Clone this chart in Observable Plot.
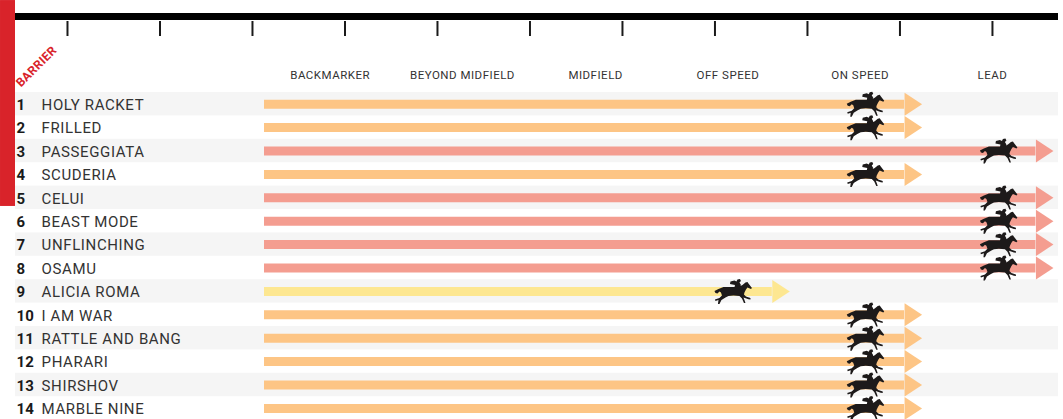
<!DOCTYPE html>
<html>
<head>
<meta charset="utf-8">
<script src="https://cdn.jsdelivr.net/npm/d3@7"></script>
<script src="https://cdn.jsdelivr.net/npm/@observablehq/plot@0.6"></script>
<style>html,body{margin:0;padding:0;background:#fff;overflow:hidden}#c{width:1063px;height:419px;overflow:hidden}
.cols text{letter-spacing:.5px}.names text{letter-spacing:.62px}.barrier text{letter-spacing:.4px}</style>
</head>
<body>
<div id="c"></div>
<script>
const barriers = [1,2,3,4,5,6,7,8,9,10,11,12,13,14];
const names = ["HOLY RACKET","FRILLED","PASSEGGIATA","SCUDERIA","CELUI","BEAST MODE","UNFLINCHING","OSAMU","ALICIA ROMA","I AM WAR","RATTLE AND BANG","PHARARI","SHIRSHOV","MARBLE NINE"];
const styles = ["ON SPEED","ON SPEED","LEAD","ON SPEED","LEAD","LEAD","LEAD","LEAD","OFF SPEED","ON SPEED","ON SPEED","ON SPEED","ON SPEED","ON SPEED"];
const columns = ["BACKMARKER","BEYOND MIDFIELD","MIDFIELD","OFF SPEED","ON SPEED","LEAD"];
const columnAt = [2.84,4.27,5.71,7.14,8.57,10];
const ticks = [0,1,2,3,4,5,6,7,8,9,10];
const styleNames = ["OFF SPEED","ON SPEED","LEAD"];
const styleColors = ["#fde791","#fdc585","#f49d90"];
const shaftEnds = {"OFF SPEED":7.62,"ON SPEED":9.05,"LEAD":10.47};
const horseAt = {"OFF SPEED":7.2,"ON SPEED":8.63,"LEAD":10.07};
const shaftStart = 2.13;
const rowsLeft = -0.562, rowsRight = 10.714;

const rows = barriers.map((b,i)=>({barrier:b,name:names[i],style:styles[i],end:shaftEnds[styles[i]],horse:horseAt[styles[i]]}));
const shaded = rows.filter(d=>d.barrier%2===1);

const unit = size => Math.sqrt(size/Math.PI)/10;
const head = {draw(c,size){const u=unit(size); c.moveTo(0,-11.5*u);c.lineTo(17.5*u,0);c.lineTo(0,11.5*u);c.closePath();}};
const horse = {draw(c,size){
  const u=unit(size), m=(x,y)=>c.moveTo(x*u,y*u), l=(x,y)=>c.lineTo(x*u,y*u);
  // body, tail, head and legs
  m(-19,-1); l(-15,-3); l(-10,-5); l(-5,-5); l(1,-5); l(6,-5.5); l(9,-7); l(12,-9.5); l(14,-10); l(15,-8.5);
  l(18.5,-4); l(17.5,-3); l(14,-4.5); l(12.5,-2.5); l(11,0.5); l(10.5,2.5); l(12.5,4.5); l(17,6); l(17,7.5); l(15,7.2); l(10,5.5);
  l(11,8); l(12,11); l(10.5,11); l(8.5,6.5); l(6,4); l(0,3.5); l(-5,4); l(-8,5.5); l(-12,8); l(-14,12); l(-15.5,12); l(-15,8);
  l(-18,9); l(-18.5,7.5); l(-14,6); l(-11.5,3.5); l(-12.5,0.5); l(-14,-0.5); l(-16,1.5); l(-18,1); c.closePath();
  // jockey
  m(-3.5,-8); l(-3,-10.5); l(1,-11.5); l(3,-10.5); l(4,-12.5); l(6.5,-13); l(7.5,-11); l(6,-9.5); l(7.5,-7); l(6,-4.5); l(1,-4.5); l(1.5,-7); c.closePath();
}};

const color = {domain:styleNames, range:styleColors};
const font = "Roboto, sans-serif";
const chart = Plot.plot({
  width:1063, height:419,
  marginTop:20, marginLeft:15, marginRight:5, marginBottom:0,
  x:{domain:[rowsLeft,rowsRight], range:[15,1058], axis:null},
  y:{domain:[0.5,14.5], range:[92,419.6], axis:null},
  color,
  style:{fontFamily:font, background:"#fff", overflow:"hidden"},
  marks:[
    Plot.rect([{}],{x1:-0.724,x2:rowsLeft,y1:-3.43,y2:5.37,fill:"#d9232a"}),
    Plot.rect(shaded,{x1:rowsLeft,x2:rowsRight,y1:d=>d.barrier-0.5,y2:d=>d.barrier+0.5,fill:"#f5f5f5"}),
    Plot.rect([{}],{x1:rowsLeft,x2:rowsRight,y1:-2.876,y2:-2.577,fill:"#000"}),
    Plot.axisX({anchor:"top",ticks,tickSize:-15,tickFormat:()=>"",stroke:"#1a1a1a",strokeWidth:2,label:null}),
    Plot.ruleY(rows,{y:"barrier",x1:shaftStart,x2:"end",stroke:"style",strokeWidth:9}),
    Plot.dot(rows,{x:"end",y:"barrier",fill:"style",r:10,symbol:head,stroke:"none"}),
    Plot.dot(rows,{x:"horse",y:"barrier",dy:0.6,fill:"#1d1a1a",r:10,symbol:horse,stroke:"none"}),
    Plot.text(columns,{x:(d,i)=>columnAt[i],y:-0.226,text:d=>d,fontSize:11.5,fill:"#333",className:"cols"}),
    Plot.text(rows,{x:-0.55,y:"barrier",dy:1,text:"barrier",textAnchor:"start",fontSize:15,fontWeight:700,fill:"#1a1a1a"}),
    Plot.text(rows,{x:-0.28,y:"barrier",dy:1,text:"name",textAnchor:"start",fontSize:15,fill:"#333",className:"names"}),
    Plot.text(["BARRIER"],{x:-0.335,y:-0.61,text:d=>d,rotate:-45,fontSize:12,fontWeight:700,fill:"#d9232a",className:"barrier"})
  ]
});
document.getElementById("c").appendChild(chart);
</script>
</body>
</html>
